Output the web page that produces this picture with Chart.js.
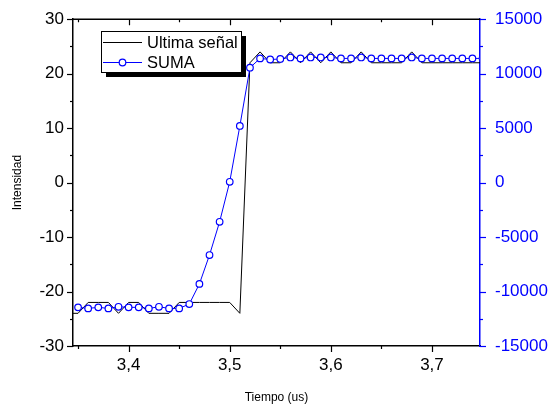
<!DOCTYPE html>
<html>
<head>
<meta charset="utf-8">
<script src="https://cdn.jsdelivr.net/npm/chart.js@4/dist/chart.umd.min.js"></script>
<style>
  html, body { margin: 0; padding: 0; background: #fff; }
  canvas { display: block; }
</style>
</head>
<body>
<canvas id="grafico" width="554" height="405"></canvas>
<script>
// ---- datos ----
const tiempoSenal = [3.34, 3.35, 3.36, 3.37, 3.38, 3.39, 3.40, 3.41, 3.42, 3.43, 3.44, 3.45, 3.46, 3.47,
  3.48, 3.49, 3.50, 3.51, 3.52, 3.53, 3.54, 3.55, 3.56, 3.57, 3.58, 3.59, 3.60, 3.61,
  3.62, 3.63, 3.64, 3.65, 3.66, 3.67, 3.68, 3.69, 3.70, 3.71, 3.72, 3.73, 3.74, 3.75];
const ultimaSenal = [-24, -24, -22, -22, -22, -24, -22, -22, -24, -24, -24, -22, -22, -22,
  -22, -22, -22, -24, 22, 24, 22, 22, 24, 22, 24, 22, 24, 22,
  22, 24, 22, 22, 22, 22, 24, 22, 22, 22, 22, 22, 22, 22];

const tiempoSuma = [3.35, 3.36, 3.37, 3.38, 3.39, 3.40, 3.41, 3.42, 3.43, 3.44, 3.45, 3.46, 3.47,
  3.48, 3.49, 3.50, 3.51, 3.52, 3.53, 3.54, 3.55, 3.56, 3.57, 3.58, 3.59, 3.60, 3.61,
  3.62, 3.63, 3.64, 3.65, 3.66, 3.67, 3.68, 3.69, 3.70, 3.71, 3.72, 3.73, 3.74, 3.75];
const suma = [-11450, -11550, -11450, -11550, -11400, -11450, -11450, -11550, -11400, -11550, -11550, -11150, -9300,
  -6650, -3600, 75, 5200, 10550, 11400, 11300, 11350, 11490, 11400, 11490, 11490, 11490, 11400,
  11400, 11490, 11400, 11400, 11400, 11400, 11490, 11400, 11400, 11400, 11400, 11400, 11400, 11400];

// marcas del eje x (las de 0,1 llevan etiqueta)
const marcasX = [3.35, 3.40, 3.45, 3.50, 3.55, 3.60, 3.65, 3.70];

const etiquetas = ["Ultima señal", "SUMA"];
const tituloX = "Tiempo (us)";
const tituloY = "Intensidad";

const AZUL = "#0000ff";
const fuente = "'Liberation Sans', Arial, sans-serif";

function esMultiplo(v, paso) {
  const q = v / paso;
  return Math.abs(q - Math.round(q)) < 1e-6;
}

// ---- marcas de ejes (mayores / menores) y borde superior ----
const marcasPlugin = {
  id: "marcas",
  afterDraw(chart) {
    const ctx = chart.ctx;
    const a = chart.chartArea;
    const sx = chart.scales.x, sy = chart.scales.y, sy2 = chart.scales.y2;
    ctx.save();
    ctx.lineWidth = 1.5;

    // borde superior
    ctx.strokeStyle = "#000";
    ctx.beginPath();
    ctx.moveTo(a.left, a.top);
    ctx.lineTo(a.right, a.top);
    ctx.stroke();

    ctx.lineWidth = 1.2;
    // eje x: abajo hacia fuera, arriba hacia dentro
    sx.ticks.forEach(t => {
      const mayor = esMultiplo(t.value, 0.1);
      const px = Math.round(sx.getPixelForValue(t.value)) + 0.5;
      ctx.beginPath();
      ctx.moveTo(px, a.bottom);
      ctx.lineTo(px, a.bottom + (mayor ? 6 : 3));
      ctx.moveTo(px, a.top);
      ctx.lineTo(px, a.top + (mayor ? 6 : 3));
      ctx.stroke();
    });
    // eje y izquierdo
    sy.ticks.forEach(t => {
      const mayor = esMultiplo(t.value, 10);
      const py = Math.round(sy.getPixelForValue(t.value)) + 0.5;
      ctx.beginPath();
      ctx.moveTo(a.left, py);
      ctx.lineTo(a.left - (mayor ? 6 : 3), py);
      ctx.stroke();
    });
    // eje y derecho
    ctx.strokeStyle = AZUL;
    sy2.ticks.forEach(t => {
      const mayor = esMultiplo(t.value, 5000);
      const py = Math.round(sy2.getPixelForValue(t.value)) + 0.5;
      ctx.beginPath();
      ctx.moveTo(a.right, py);
      ctx.lineTo(a.right + (mayor ? 6 : 3), py);
      ctx.stroke();
    });
    ctx.restore();
  }
};

// ---- leyenda con sombra ----
const leyendaPlugin = {
  id: "leyendaSombra",
  afterDraw(chart) {
    const ctx = chart.ctx;
    const x = 101, y = 31, w = 140, h = 41;
    ctx.save();
    ctx.fillStyle = "#000";
    ctx.fillRect(x + 5, y + 5, w, h);
    ctx.fillStyle = "#fff";
    ctx.fillRect(x, y, w, h);
    ctx.strokeStyle = "#000";
    ctx.lineWidth = 1;
    ctx.strokeRect(x + 0.5, y + 0.5, w, h);

    ctx.font = "16.5px " + fuente;
    ctx.textBaseline = "middle";
    chart.data.datasets.forEach((ds, i) => {
      const cy = y + 11 + i * 20;
      ctx.strokeStyle = ds.borderColor;
      ctx.lineWidth = 1;
      ctx.beginPath();
      ctx.moveTo(x + 2, cy + 0.5);
      ctx.lineTo(x + 41, cy + 0.5);
      ctx.stroke();
      if (ds.pointRadius > 0) {
        ctx.fillStyle = "#fff";
        ctx.lineWidth = ds.pointBorderWidth;
        ctx.beginPath();
        ctx.arc(x + 21.5, cy + 0.5, ds.pointRadius, 0, Math.PI * 2);
        ctx.fill();
        ctx.stroke();
      }
      ctx.fillStyle = "#000";
      ctx.fillText(ds.label, x + 46, cy + 1);
    });
    ctx.restore();
  }
};

new Chart(document.getElementById("grafico"), {
  type: "line",
  data: {
    datasets: [
      {
        label: etiquetas[0],
        data: tiempoSenal.map((t, i) => ({ x: t, y: ultimaSenal[i] })),
        borderColor: "#000",
        borderWidth: 1,
        pointRadius: 0,
        yAxisID: "y",
        clip: 0,
        order: 2
      },
      {
        label: etiquetas[1],
        data: tiempoSuma.map((t, i) => ({ x: t, y: suma[i] })),
        borderColor: AZUL,
        borderWidth: 1,
        pointRadius: 3.3,
        pointBorderWidth: 1.2,
        pointBackgroundColor: "#fff",
        pointBorderColor: AZUL,
        yAxisID: "y2",
        clip: 0,
        order: 1
      }
    ]
  },
  options: {
    responsive: false,
    animation: false,
    layout: { padding: { top: 19, left: 0, right: 0, bottom: 0 } },
    plugins: { legend: { display: false }, tooltip: { enabled: false } },
    scales: {
      x: {
        type: "linear",
        position: "bottom",
        min: 3.345,
        max: 3.7475,
        afterFit: s => { s.height = 59; },
        afterBuildTicks: s => { s.ticks = marcasX.map(v => ({ value: v })); },
        border: { display: true, color: "#000", width: 1.5 },
        grid: { display: false, drawTicks: true, tickLength: 6 },
        ticks: {
          autoSkip: false,
          maxRotation: 0,
          padding: 3,
          color: "#000",
          font: { family: fuente, size: 17 },
          callback: v => esMultiplo(v, 0.1) ? v.toFixed(1).replace(".", ",") : ""
        },
        title: {
          display: true,
          text: tituloX,
          color: "#000",
          font: { family: fuente, size: 12 },
          padding: { top: 0, bottom: 0 }
        }
      },
      y: {
        position: "left",
        min: -30,
        max: 30,
        afterFit: s => { s.width = 73; },
        border: { display: true, color: "#000", width: 1.5 },
        grid: { display: false, drawTicks: true, tickLength: 6 },
        ticks: {
          stepSize: 5,
          autoSkip: false,
          padding: 3,
          color: "#000",
          font: { family: fuente, size: 17 },
          callback: v => esMultiplo(v, 10) ? String(v) : ""
        },
        title: {
          display: true,
          text: tituloY,
          color: "#000",
          font: { family: fuente, size: 12 },
          padding: { top: 10, bottom: 0 }
        }
      },
      y2: {
        position: "right",
        min: -15000,
        max: 15000,
        afterFit: s => { s.width = 74; },
        border: { display: true, color: AZUL, width: 1.5 },
        grid: { display: false, drawTicks: true, tickLength: 6 },
        ticks: {
          stepSize: 2500,
          autoSkip: false,
          padding: 9,
          color: AZUL,
          font: { family: fuente, size: 17 },
          callback: v => esMultiplo(v, 5000) ? String(v) : ""
        }
      }
    }
  },
  plugins: [marcasPlugin, leyendaPlugin]
});
</script>
</body>
</html>
